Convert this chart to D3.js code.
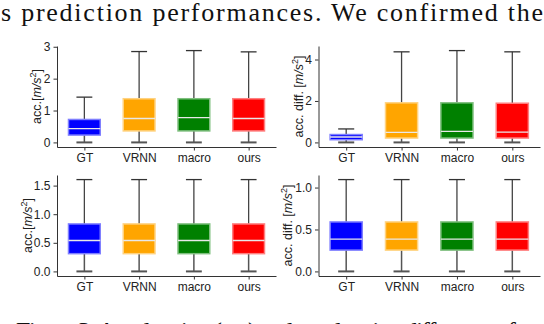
<!DOCTYPE html>
<html>
<head>
<script src="https://d3js.org/d3.v7.min.js"></script>
<style>
  body { margin: 0; background: #fff; }
  .axis text { font-family: "Liberation Sans", Arial, sans-serif; font-size: 12px; fill: #222; }
  .axis path, .axis line { stroke: #333; stroke-width: 1px; }
  .ylabel { font-family: "Liberation Sans", Arial, sans-serif; font-size: 12.5px; fill: #222; }
  .prose { font-family: "Liberation Serif", "Times New Roman", serif; font-size: 26px; fill: #111; }
</style>
</head>
<body>
<script>
// categories and colours
var categories = ["GT", "VRNN", "macro", "ours"];
var boxColors = ["#0000ff", "#ffa500", "#008000", "#ff0000"];
var edgeColors = ["#7f7fff", "#ffd27f", "#7fbf7f", "#ff7f7f"];

// box stats per panel: [min, q1, median, q3, max] for GT, VRNN, macro, ours
var accTop = [
  [0, 0.23, 0.43, 0.72, 1.42],
  [0, 0.36, 0.75, 1.37, 2.85],
  [0, 0.36, 0.78, 1.37, 2.88],
  [0, 0.36, 0.75, 1.37, 2.84]
];
var diffTop = [
  [0, 0.13, 0.26, 0.38, 0.65],
  [0, 0.21, 0.48, 1.91, 4.37],
  [0, 0.21, 0.53, 1.91, 4.43],
  [0, 0.21, 0.50, 1.89, 4.37]
];
var accBottom = [
  [0, 0.31, 0.54, 0.83, 1.605],
  [0, 0.31, 0.54, 0.83, 1.605],
  [0, 0.31, 0.54, 0.83, 1.605],
  [0, 0.31, 0.54, 0.83, 1.605]
];
var diffBottom = [
  [0, 0.254, 0.385, 0.59, 1.095],
  [0, 0.254, 0.385, 0.59, 1.095],
  [0, 0.254, 0.385, 0.59, 1.095],
  [0, 0.254, 0.385, 0.59, 1.095]
];

var ticksAccTop = [0, 1, 2, 3];
var ticksDiffTop = [0, 2, 4];
var ticksAccBottom = [0, 0.5, 1.0, 1.5];
var ticksDiffBottom = [0, 0.5, 1.0];

var topText = "s prediction performances.  We confirmed the";
var bottomText = "Figure 3:  Acceleration (top) and acceleration difference of";

var svg = d3.select("body").append("svg")
    .attr("width", 544)
    .attr("height", 324);

svg.append("text").attr("class", "prose")
    .attr("x", 1).attr("y", 21)
    .attr("textLength", 542).attr("lengthAdjust", "spacing")
    .text(topText);

// caption line, only its top edge shows at the bottom of the crop
svg.append("text").attr("class", "prose")
    .attr("x", 16).attr("y", 340)
    .attr("textLength", 500).attr("lengthAdjust", "spacing")
    .text(bottomText);

function draw_panel(stats, ticks, fmt, box, label) {
  var maxV = d3.max(stats, function(d) { return d[4]; });
  var pad = maxV * 0.05;

  var x_scale = d3.scaleLinear().domain([-0.5, 3.5]).range([box.left, box.right]);
  var y_scale = d3.scaleLinear().domain([-pad, maxV + pad]).range([box.bottom, box.top]);

  var g = svg.append("g");

  // axes
  g.append("g").attr("class", "axis")
      .attr("transform", "translate(0," + box.bottom + ")")
      .call(d3.axisBottom(x_scale).tickValues([0, 1, 2, 3])
        .tickFormat(function(i) { return categories[i]; })
        .tickSizeInner(3.5).tickSizeOuter(0).tickPadding(3));

  g.append("g").attr("class", "axis")
      .attr("transform", "translate(" + box.left + ",0)")
      .call(d3.axisLeft(y_scale).tickValues(ticks).tickFormat(fmt)
        .tickSizeInner(3.5).tickSizeOuter(0).tickPadding(3));

  var half = (x_scale(0.29) - x_scale(0));
  var capHalf = half * 0.5;

  stats.forEach(function(s, i) {
    var cx = x_scale(i);
    // whiskers
    g.append("line")
        .attr("x1", cx).attr("x2", cx)
        .attr("y1", y_scale(s[0])).attr("y2", y_scale(s[1]))
        .attr("stroke", "#555").attr("stroke-width", 1.5);
    g.append("line")
        .attr("x1", cx).attr("x2", cx)
        .attr("y1", y_scale(s[3])).attr("y2", y_scale(s[4]))
        .attr("stroke", "#444").attr("stroke-width", 1.3);
    // caps
    g.append("line")
        .attr("x1", cx - capHalf).attr("x2", cx + capHalf)
        .attr("y1", y_scale(s[4])).attr("y2", y_scale(s[4]))
        .attr("stroke", "#333").attr("stroke-width", 1.3);
    g.append("line")
        .attr("x1", cx - capHalf).attr("x2", cx + capHalf)
        .attr("y1", y_scale(s[0])).attr("y2", y_scale(s[0]))
        .attr("stroke", "#555").attr("stroke-width", 2);
    // box
    g.append("rect")
        .attr("x", cx - half)
        .attr("y", y_scale(s[3]))
        .attr("width", half * 2)
        .attr("height", y_scale(s[1]) - y_scale(s[3]))
        .attr("fill", boxColors[i])
        .attr("stroke", edgeColors[i])
        .attr("stroke-width", 1.5);
    // median
    g.append("line")
        .attr("x1", cx - half).attr("x2", cx + half)
        .attr("y1", y_scale(s[2])).attr("y2", y_scale(s[2]))
        .attr("stroke", "#e8e8e8").attr("stroke-width", 1.3);
  });

  // y label with italic unit and superscript
  var t = g.append("text").attr("class", "ylabel")
      .attr("text-anchor", "middle")
      .attr("transform", "translate(" + box.labelX + "," + ((box.top + box.bottom) / 2) + ") rotate(-90)");
  t.append("tspan").text(label + "[");
  t.append("tspan").attr("font-style", "italic").text("m/s");
  t.append("tspan").attr("font-size", "9px").attr("dy", -5).text("2");
  t.append("tspan").attr("dy", 5).text("]");
}

var f0 = d3.format("d");
var f1 = d3.format(".1f");

draw_panel(accTop, ticksAccTop, f0,
  {left: 57, right: 276, top: 46, bottom: 147, labelX: 41}, "acc.");
draw_panel(diffTop, ticksDiffTop, f0,
  {left: 318.5, right: 540, top: 46, bottom: 147, labelX: 303}, "acc. diff. ");
draw_panel(accBottom, ticksAccBottom, f1,
  {left: 57, right: 276, top: 175, bottom: 276, labelX: 32}, "acc.");
draw_panel(diffBottom, ticksDiffBottom, f1,
  {left: 318.5, right: 540, top: 175, bottom: 276, labelX: 292}, "acc. diff. ");
</script>
</body>
</html>
